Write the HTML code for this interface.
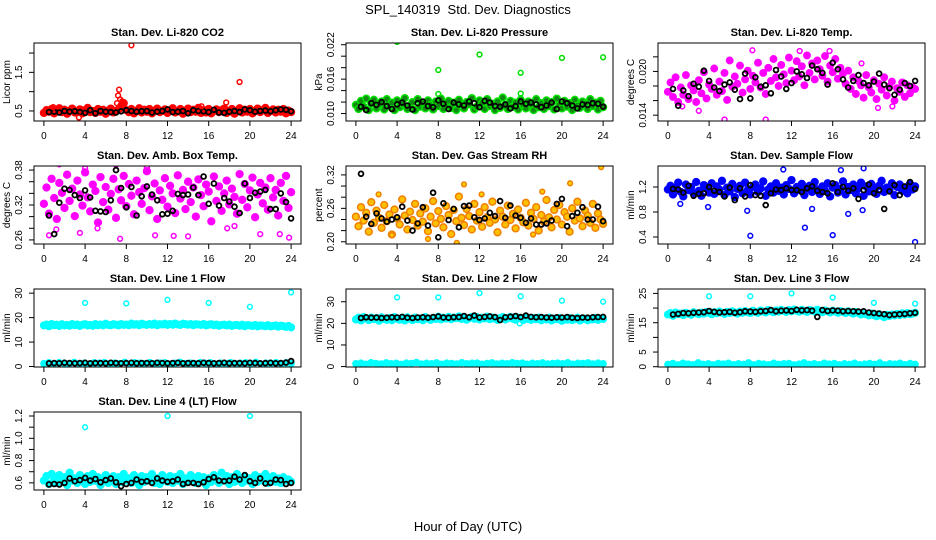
<!DOCTYPE html>
<html><head><meta charset="utf-8"><style>
html,body{margin:0;padding:0;background:#fff}
svg{display:block;font-family:"Liberation Sans",Arial,sans-serif}
</style></head><body>
<svg id="chart" width="936" height="540" viewBox="0 0 936 540" xmlns="http://www.w3.org/2000/svg">
<rect x="0" y="0" width="936" height="540" fill="#fff"/>
<text x="468" y="14" text-anchor="middle" font-size="13">SPL_140319&#160;&#160;Std. Dev. Diagnostics</text>
<text x="468" y="531" text-anchor="middle" font-size="13">Hour of Day (UTC)</text>
</svg>
<script>
// ---- data (hour x-grid derived from array length for band series) ----
const xTicks = [0,4,8,12,16,20,24];

const co2Band = [0.45,0.52,0.48,0.55,0.44,0.5,0.57,0.47,0.53,0.43,0.51,0.56,0.46,0.49,0.54,0.44,0.52,0.58,0.47,0.5,0.45,0.55,0.48,0.53,0.43,0.51,0.56,0.46,0.5,0.54,0.62,0.7,0.52,0.47,0.55,0.44,0.5,0.57,0.46,0.53,0.48,0.55,0.44,0.51,0.56,0.47,0.5,0.54,0.45,0.52,0.57,0.46,0.49,0.55,0.43,0.51,0.56,0.47,0.53,0.48,0.58,0.45,0.52,0.46,0.55,0.44,0.5,0.54,0.47,0.52,0.56,0.45,0.49,0.55,0.43,0.51,0.57,0.46,0.53,0.48,0.55,0.44,0.5,0.56,0.47,0.52,0.58,0.45,0.5,0.54,0.46,0.53,0.48,0.55,0.44,0.51,0.47];
const co2Black = [0.47,0.48,0.46,0.5,0.48,0.49,0.47,0.45,0.52,0.44,0.5,0.48,0.47,0.46,0.49,0.52,0.5,0.48,0.49,0.5,0.46,0.48,0.5,0.54,0.47,0.48,0.5,0.44,0.52,0.5,0.49,0.47,0.53,0.46,0.45,0.48,0.5,0.47,0.54,0.52,0.48,0.5,0.51,0.49,0.52,0.54,0.53,0.49];
const co2OutX = [8.5,19,7.3,7.2,7.4,7.6,7.1,17.7,15.3,0.9,3.4];
const co2OutY = [2.2,1.25,1.05,0.9,0.8,0.75,0.7,0.72,0.62,0.6,0.33];

const presBand = [0.0115,0.0108,0.0122,0.0112,0.0126,0.0106,0.0118,0.0124,0.0109,0.0116,0.0121,0.0107,0.0125,0.0113,0.0119,0.0106,0.0123,0.0111,0.0117,0.0127,0.0108,0.0114,0.012,0.0106,0.0125,0.0112,0.0118,0.0109,0.0123,0.0115,0.0107,0.0121,0.0113,0.0126,0.0108,0.0117,0.0122,0.011,0.0119,0.0106,0.0124,0.0114,0.0109,0.012,0.0116,0.0127,0.0107,0.0112,0.0123,0.0118,0.0108,0.0125,0.0113,0.0117,0.0106,0.0121,0.011,0.0128,0.0115,0.0108,0.0122,0.0112,0.0119,0.0107,0.0124,0.0114,0.0109,0.0121,0.0116,0.0106,0.0125,0.0111,0.0118,0.0108,0.0123,0.0113,0.012,0.0107,0.0126,0.0115,0.0109,0.0122,0.0112,0.0118,0.0106,0.0124,0.0114,0.011,0.0121,0.0117,0.0108,0.0125,0.0113,0.0119,0.0107,0.0122,0.0111];
const presBlack = [0.0112,0.0106,0.0118,0.0115,0.012,0.0113,0.0108,0.0116,0.0119,0.0114,0.0107,0.0118,0.0121,0.0113,0.0111,0.0123,0.0117,0.0108,0.0119,0.0116,0.0114,0.0121,0.0118,0.0111,0.0122,0.0119,0.0113,0.0112,0.0116,0.0109,0.0113,0.0121,0.0117,0.0119,0.0116,0.0111,0.0114,0.0119,0.0108,0.0121,0.0118,0.0114,0.0109,0.0116,0.0115,0.0118,0.0117,0.0112];
const presOutX = [4,8,12,16,20,24,8,16];
const presOutY = [0.0225,0.0176,0.0203,0.0171,0.0197,0.0198,0.0134,0.0135];

const tempBand = [0.0172,0.0185,0.0165,0.0192,0.0158,0.0178,0.0168,0.0195,0.0162,0.0181,0.0174,0.0158,0.0188,0.017,0.0199,0.0163,0.0182,0.0176,0.0204,0.0168,0.0186,0.0173,0.0198,0.0161,0.0215,0.0179,0.0193,0.0183,0.0208,0.0171,0.0189,0.0201,0.0176,0.0194,0.0185,0.0212,0.0178,0.0198,0.0169,0.0205,0.0187,0.0217,0.0192,0.018,0.0209,0.0196,0.0184,0.0219,0.0201,0.0188,0.0214,0.0193,0.0207,0.0181,0.0222,0.0198,0.0211,0.0189,0.0215,0.0203,0.0194,0.0221,0.0186,0.0208,0.0199,0.0217,0.019,0.0205,0.0197,0.0183,0.0201,0.0176,0.0192,0.0169,0.0187,0.0181,0.0164,0.0195,0.0178,0.0171,0.0188,0.0162,0.0183,0.0175,0.0192,0.0167,0.0179,0.0186,0.016,0.0177,0.0172,0.0185,0.0165,0.0181,0.017,0.0178,0.0176];
const tempBlack = [0.0176,0.0153,0.0174,0.0166,0.0183,0.0179,0.0201,0.0187,0.0178,0.0173,0.0182,0.0185,0.0175,0.0162,0.0197,0.0163,0.0192,0.0179,0.0181,0.017,0.0202,0.0193,0.0176,0.0184,0.02,0.0196,0.0191,0.0208,0.0203,0.0198,0.0182,0.0212,0.0203,0.0189,0.0178,0.0187,0.0195,0.0184,0.0181,0.0186,0.0197,0.0182,0.0177,0.0168,0.0175,0.0184,0.018,0.0187];
const tempOutX = [5.5,9.5,3.0,8.2,12.8,15.7,20.4,21.8,18.8,1.4];
const tempOutY = [0.0134,0.0134,0.0146,0.0229,0.0228,0.0228,0.015,0.0152,0.0211,0.0152];

const ambBand = [0.322,0.35,0.305,0.365,0.332,0.296,0.358,0.341,0.315,0.372,0.327,0.348,0.301,0.362,0.338,0.319,0.376,0.333,0.309,0.355,0.344,0.29,0.368,0.325,0.351,0.312,0.339,0.365,0.298,0.347,0.328,0.37,0.318,0.356,0.336,0.304,0.362,0.342,0.322,0.349,0.378,0.311,0.335,0.357,0.296,0.345,0.329,0.366,0.317,0.353,0.34,0.306,0.371,0.331,0.346,0.313,0.36,0.325,0.35,0.3,0.364,0.337,0.318,0.355,0.343,0.292,0.369,0.327,0.352,0.31,0.34,0.362,0.321,0.348,0.334,0.305,0.373,0.329,0.356,0.316,0.345,0.367,0.299,0.338,0.358,0.323,0.35,0.312,0.366,0.333,0.346,0.302,0.358,0.327,0.37,0.315,0.342];
const ambBlack = [0.302,0.27,0.324,0.348,0.346,0.337,0.332,0.345,0.333,0.31,0.309,0.308,0.328,0.38,0.349,0.316,0.351,0.302,0.335,0.352,0.338,0.328,0.304,0.305,0.31,0.339,0.337,0.338,0.35,0.337,0.369,0.322,0.357,0.319,0.332,0.326,0.317,0.306,0.357,0.332,0.341,0.343,0.346,0.313,0.313,0.34,0.325,0.297];
const ambOutX = [0.5,1.2,3.5,5.2,7.4,7.0,10.0,10.8,12.6,14.0,17.8,18.5,21.0,22.9,23.8,1.5,4.0];
const ambOutY = [0.268,0.278,0.272,0.28,0.262,0.389,0.384,0.268,0.267,0.266,0.28,0.284,0.27,0.27,0.264,0.39,0.383];

const rhBand = [0.245,0.228,0.262,0.238,0.252,0.218,0.271,0.234,0.256,0.243,0.225,0.266,0.237,0.249,0.213,0.258,0.242,0.231,0.276,0.247,0.222,0.254,0.239,0.268,0.229,0.251,0.236,0.26,0.219,0.245,0.273,0.233,0.255,0.241,0.226,0.264,0.248,0.214,0.257,0.237,0.281,0.243,0.23,0.259,0.246,0.222,0.268,0.238,0.253,0.227,0.262,0.244,0.234,0.272,0.24,0.217,0.256,0.245,0.231,0.265,0.239,0.25,0.224,0.258,0.243,0.235,0.27,0.229,0.252,0.241,0.262,0.22,0.248,0.236,0.275,0.244,0.226,0.257,0.24,0.266,0.231,0.253,0.245,0.218,0.26,0.238,0.272,0.242,0.228,0.256,0.247,0.234,0.268,0.225,0.251,0.24,0.232];
const rhBlack = [0.322,0.245,0.232,0.251,0.242,0.236,0.24,0.244,0.263,0.238,0.22,0.233,0.262,0.229,0.288,0.208,0.269,0.239,0.259,0.226,0.264,0.265,0.244,0.239,0.242,0.252,0.246,0.273,0.243,0.265,0.247,0.243,0.234,0.242,0.231,0.231,0.233,0.238,0.268,0.277,0.228,0.246,0.252,0.262,0.24,0.24,0.263,0.237];
const rhOutX = [23.8,10.5,20.8,2.2,18.1,12.2,7.0,9.8,17.2,3.5];
const rhOutY = [0.334,0.303,0.305,0.285,0.29,0.285,0.205,0.198,0.213,0.212];

const flowBand = [1.16,1.22,1.08,1.19,1.27,1.12,1.05,1.24,1.15,1.2,1.1,1.28,1.14,1.06,1.23,1.18,1.11,1.26,1.09,1.21,1.16,1.3,1.07,1.19,1.13,1.25,1.04,1.17,1.22,1.1,1.27,1.15,1.08,1.2,1.24,1.12,1.18,1.29,1.06,1.16,1.21,1.11,1.26,1.14,1.19,1.08,1.23,1.17,1.31,1.1,1.2,1.15,1.25,1.07,1.18,1.22,1.12,1.28,1.16,1.09,1.21,1.14,1.26,1.05,1.19,1.23,1.11,1.17,1.29,1.08,1.2,1.15,1.24,1.1,1.18,1.27,1.06,1.21,1.13,1.25,1.17,1.09,1.22,1.3,1.12,1.19,1.15,1.26,1.07,1.2,1.24,1.14,1.18,1.1,1.25,1.16,1.21];
const flowBlack = [1.17,1.16,1.11,1.22,1.06,1.09,1.1,1.2,1.14,1.12,1.05,1.19,0.99,1.18,1.05,1.23,1.07,1.06,0.91,1.1,1.16,1.15,1.18,1.15,1.15,1.12,1.18,1.21,1.14,1.12,1.1,1.26,1.12,1.2,1.14,1.18,1.01,1.15,1.24,1.1,1.15,0.85,1.13,1.23,1.07,1.21,1.28,1.17];
const flowOutX = [8,16,24,13.3,11.2,19,16.8,17.5,18.9,14,1.2,3.9,7.7];
const flowOutY = [0.42,0.43,0.32,0.55,1.48,1.5,1.47,0.77,0.83,0.85,0.93,0.88,0.82];

const l1Band = [16.8,17.2,16.5,17.4,16.9,17.1,16.6,17.3,16.8,17.0,16.7,17.4,16.9,17.2,16.6,17.1,17.3,16.8,17.0,16.7,17.4,16.9,17.2,16.8,17.5,17.0,16.9,17.3,17.1,16.8,17.4,17.0,17.2,16.9,17.6,17.1,17.3,16.9,17.5,17.2,17.0,17.4,17.1,17.6,16.9,17.3,17.2,17.5,17.0,17.4,17.1,17.6,17.2,17.0,17.5,17.3,17.1,17.4,16.9,17.3,17.2,17.0,17.4,16.8,17.1,17.3,16.9,17.2,16.7,17.0,17.1,16.8,17.2,16.6,16.9,17.0,16.7,17.1,16.5,16.9,16.8,16.6,17.0,16.4,16.8,16.7,16.5,16.9,16.4,16.6,16.8,16.3,16.7,16.5,16.2,16.6,16.0];
const l1Low = [1.2,1.5,1.0,1.6,1.3,1.1,1.7,1.2,1.4,1.0,1.5,1.3,1.6,1.1,1.4,1.2,1.7,1.0,1.5,1.3,1.1,1.6,1.2,1.4,1.5,1.0,1.3,1.7,1.2,1.4,1.1,1.6,1.3,1.5,1.0,1.4,1.2,1.6,1.1,1.3,1.5,1.2,1.7,1.0,1.4,1.3,1.6,1.1,1.5,1.2];
const l1Black = [1.3,1.4,1.3,1.5,1.4,1.3,1.4,1.5,1.3,1.4,1.4,1.3,1.5,1.4,1.3,1.4,1.5,1.3,1.4,1.4,1.3,1.5,1.4,1.3,1.4,1.5,1.3,1.4,1.4,1.3,1.5,1.4,1.3,1.4,1.5,1.3,1.4,1.4,1.3,1.5,1.4,1.3,1.4,1.5,1.3,1.4,1.6,2.2];
const l1OutX = [4,8,12,16,20,24];
const l1OutY = [26.0,25.8,27.3,26.0,24.4,30.3];

const l2Band = [21.8,22.6,21.3,22.9,22.1,21.5,22.7,21.9,22.4,21.2,22.8,22.0,21.6,22.5,21.4,22.9,22.2,21.7,22.6,21.3,22.8,22.0,21.5,22.7,21.9,22.3,21.4,22.9,22.1,21.6,22.5,22.0,23.1,21.8,22.6,22.2,23.0,21.9,22.7,22.4,23.2,22.0,22.8,21.7,22.5,23.0,22.1,22.9,21.8,22.6,22.3,23.1,21.9,22.7,22.2,21.6,22.5,22.9,21.8,22.4,23.0,22.1,21.7,22.6,22.3,21.5,22.8,22.0,21.6,22.5,21.9,22.7,21.4,22.3,21.8,22.6,21.3,22.2,21.9,22.5,21.2,22.1,21.7,22.4,21.5,22.0,22.6,21.3,21.9,22.3,21.4,22.1,21.8,22.5,21.6,22.2,22.0];
const l2Low = [1.3,1.6,1.1,1.8,1.4,1.2,1.7,1.3,1.5,1.0,1.6,1.4,1.9,1.2,1.5,1.3,1.7,1.1,1.6,1.4,1.2,1.8,1.3,1.5,1.6,1.1,1.4,1.7,1.2,1.5,1.3,1.8,1.4,1.6,1.1,1.5,1.3,1.7,1.2,1.4,1.6,1.3,1.8,1.1,1.5,1.4,1.7,1.2,1.6,1.3];
const l2Black = [22.5,22.8,22.6,22.7,22.5,22.6,22.8,22.7,23.0,22.6,22.5,22.7,22.8,22.6,22.9,23.2,22.7,22.6,22.8,22.9,23.4,22.8,23.6,22.7,23.0,23.2,22.9,21.5,22.8,23.1,23.4,22.9,23.6,23.0,22.8,22.9,22.7,22.6,22.8,22.7,22.9,22.6,22.5,22.7,22.6,22.8,22.9,23.0];
const l2OutX = [4,8,12,16,20,24,15.9];
const l2OutY = [32.0,32.0,34.0,32.5,30.5,30.0,20.0];

const l3Band = [17.8,18.3,17.4,18.5,17.9,18.1,17.6,18.4,18.0,17.7,18.6,18.2,17.9,18.5,18.1,18.7,18.3,17.9,18.6,18.2,18.8,18.4,18.0,18.7,18.3,18.9,18.5,18.1,18.8,18.4,19.0,18.6,18.3,19.1,18.7,18.4,19.2,18.8,18.5,19.3,18.9,18.6,19.2,18.8,19.4,19.0,18.7,19.3,18.9,19.5,19.1,18.8,19.4,19.0,18.7,19.3,19.1,18.8,19.4,19.0,18.6,19.2,18.9,18.5,19.1,18.8,18.4,19.0,18.7,18.3,18.9,18.5,18.1,18.7,18.3,17.8,18.4,17.9,17.5,18.1,17.6,17.2,17.9,17.4,16.9,17.7,17.3,17.8,17.5,18.0,17.6,18.2,17.8,18.3,17.9,18.1,18.4];
const l3Low = [0.8,1.1,0.6,1.2,0.9,0.7,1.3,0.8,1.0,0.6,1.1,0.9,1.2,0.7,1.0,0.8,1.3,0.6,1.1,0.9,0.7,1.2,0.8,1.0,1.1,0.6,0.9,1.3,0.8,1.0,0.7,1.2,0.9,1.1,0.6,1.0,0.8,1.2,0.7,0.9,1.1,0.8,1.3,0.6,1.0,0.9,1.2,0.7,1.1,0.8];
const l3Black = [17.8,18.0,18.3,18.2,18.4,18.5,18.6,19.0,18.7,18.5,18.6,18.7,18.4,18.6,18.9,18.8,18.7,18.9,19.0,19.3,18.9,19.1,19.2,19.0,19.4,19.2,19.3,19.1,17.0,19.3,19.0,19.2,19.1,18.9,19.0,18.9,18.8,18.9,18.5,18.3,18.1,17.9,17.6,17.8,17.9,18.0,18.2,18.4];
const l3OutX = [4,8,12,16,20,24];
const l3OutY = [24.0,24.0,25.0,23.6,21.8,21.5];

const l4Band = [0.62,0.66,0.59,0.68,0.63,0.6,0.67,0.61,0.65,0.58,0.69,0.62,0.64,0.6,0.67,0.63,0.59,0.66,0.61,0.68,0.62,0.65,0.58,0.64,0.67,0.6,0.63,0.66,0.59,0.65,0.61,0.68,0.62,0.64,0.6,0.67,0.63,0.58,0.66,0.61,0.65,0.62,0.68,0.6,0.64,0.59,0.67,0.63,0.61,0.66,0.6,0.65,0.62,0.68,0.59,0.64,0.61,0.67,0.63,0.6,0.66,0.62,0.65,0.58,0.64,0.61,0.67,0.63,0.6,0.69,0.62,0.66,0.59,0.65,0.61,0.68,0.63,0.6,0.66,0.62,0.64,0.59,0.67,0.61,0.65,0.62,0.68,0.6,0.63,0.66,0.61,0.64,0.6,0.65,0.62,0.63,0.61];
const l4Black = [0.585,0.59,0.585,0.6,0.64,0.615,0.625,0.645,0.62,0.635,0.605,0.625,0.64,0.605,0.57,0.59,0.6,0.63,0.61,0.615,0.6,0.64,0.62,0.61,0.615,0.63,0.59,0.6,0.6,0.59,0.605,0.635,0.65,0.62,0.615,0.62,0.655,0.63,0.67,0.615,0.6,0.64,0.595,0.6,0.63,0.625,0.59,0.6];
const l4OutX = [4,12,20];
const l4OutY = [1.1,1.2,1.2];

// ---- layout ----
const NS = 'http://www.w3.org/2000/svg';
const svg = document.getElementById('chart');
const colLeft = [34,346,658], rowTop = [43,166,289,412], boxW = 267, boxH = 78;

function mk(tag, attrs, parent){
  const e = document.createElementNS(NS, tag);
  for (const k in attrs) e.setAttribute(k, attrs[k]);
  (parent||svg).appendChild(e);
  return e;
}

const panels = [
 {id:'co2',col:0,row:0,title:'Stan. Dev. Li-820 CO2',ylab:'Licor ppm',ymin:0.24,ymax:2.26,ticks:[0.5,1,1.5,2],labels:['0.5','','1.5',''],
  series:[{y:co2Band,c:'#ff0000',r:3.4},{y:co2Black,c:'#000',black:true},{x:co2OutX,y:co2OutY,c:'#ff0000'}]},
 {id:'pressure',col:1,row:0,title:'Stan. Dev. Li-820 Pressure',ylab:'kPa',ymin:0.0087,ymax:0.0223,ticks:[0.010,0.012,0.014,0.016,0.018,0.020,0.022],labels:['0.010','','','0.016','','','0.022'],
  series:[{y:presBand,c:'#00e000',fill:'#118811',r:3.4},{y:presBlack,c:'#000',black:true},{x:presOutX,y:presOutY,c:'#00dd00'}]},
 {id:'temp',col:2,row:0,title:'Stan. Dev. Li-820 Temp.',ylab:'degrees C',ymin:0.0132,ymax:0.0239,ticks:[0.014,0.016,0.018,0.020,0.022],labels:['0.014','','','0.020',''],
  series:[{y:tempBand,c:'#ff00ff',fill:'#ff00ff',r:3.2},{x:tempOutX,y:tempOutY,c:'#ff00ff'},{y:tempBlack,c:'#000',black:true}]},
 {id:'ambbox',col:0,row:1,title:'Stan. Dev. Amb. Box Temp.',ylab:'degrees C',ymin:0.253,ymax:0.387,ticks:[0.26,0.28,0.30,0.32,0.34,0.36,0.38],labels:['0.26','','','0.32','','','0.38'],
  series:[{y:ambBand,c:'#ff00ff',fill:'#ff00ff',r:3.4},{x:ambOutX,y:ambOutY,c:'#ff00ff'},{y:ambBlack,c:'#000',black:true}]},
 {id:'rh',col:1,row:1,title:'Stan. Dev. Gas Stream RH',ylab:'percent',ymin:0.196,ymax:0.336,ticks:[0.20,0.22,0.24,0.26,0.28,0.30,0.32],labels:['0.20','','','0.26','','','0.32'],
  series:[{y:rhBand,c:'#f08000',fill:'#ffc000',r:3.4},{x:rhOutX,y:rhOutY,c:'#f08000',fill:'#ffd000'},{y:rhBlack,c:'#000',black:true}]},
 {id:'sampleflow',col:2,row:1,title:'Stan. Dev. Sample Flow',ylab:'ml/min',ymin:0.288,ymax:1.536,ticks:[0.4,0.8,1.2],labels:['0.4','0.8','1.2'],
  series:[{y:flowBand,c:'#0000ff',fill:'#0000ff',r:3.4},{x:flowOutX,y:flowOutY,c:'#0000ff'},{y:flowBlack,c:'#000',black:true}]},
 {id:'line1',col:0,row:2,title:'Stan. Dev. Line 1 Flow',ylab:'ml/min',ymin:-0.2,ymax:31.7,ticks:[0,10,20,30],labels:['0','10','20','30'],
  series:[{y:l1Band,c:'#00ffff',fill:'#00ffff',r:3.3},{y:l1Low,c:'#00ffff',fill:'#00ffff',r:3},{y:l1Black,c:'#000',black:true},{x:l1OutX,y:l1OutY,c:'#00ffff'}]},
 {id:'line2',col:1,row:2,title:'Stan. Dev. Line 2 Flow',ylab:'ml/min',ymin:-0.2,ymax:35.9,ticks:[0,10,20,30],labels:['0','10','20','30'],
  series:[{y:l2Band,c:'#00ffff',fill:'#00ffff',r:3.3},{y:l2Low,c:'#00ffff',fill:'#00ffff',r:3},{y:l2Black,c:'#000',black:true},{x:l2OutX,y:l2OutY,c:'#00ffff'}]},
 {id:'line3',col:2,row:2,title:'Stan. Dev. Line 3 Flow',ylab:'ml/min',ymin:-0.1,ymax:26.5,ticks:[0,5,10,15,20,25],labels:['0','5','','15','','25'],
  series:[{y:l3Band,c:'#00ffff',fill:'#00ffff',r:3.3},{y:l3Low,c:'#00ffff',fill:'#00ffff',r:3},{y:l3Black,c:'#000',black:true},{x:l3OutX,y:l3OutY,c:'#00ffff'}]},
 {id:'line4',col:0,row:3,title:'Stan. Dev. Line 4 (LT) Flow',ylab:'ml/min',ymin:0.536,ymax:1.236,ticks:[0.6,0.7,0.8,0.9,1.0,1.1,1.2],labels:['0.6','','0.8','','1.0','','1.2'],
  series:[{y:l4Band,c:'#00ffff',fill:'#00ffff',r:3.4},{y:l4Black,c:'#000',black:true},{x:l4OutX,y:l4OutY,c:'#00ffff'}]}
];

panels.forEach(p => {
  const L = colLeft[p.col], T = rowTop[p.row];
  const g = mk('g', {});
  
  
  const xs = h => L + (h + 0.96) / 25.92 * boxW;
  const ys = v => T + boxH - (v - p.ymin) / (p.ymax - p.ymin) * boxH;
  const clip = mk('clipPath', {id:'clip-' + p.id}, g);
  mk('rect', {x:L, y:T, width:boxW, height:boxH}, clip);

  const marks = mk('g', {'clip-path':'url(#clip-' + p.id + ')'}, g);
  
  
  p.series.forEach(s => {
    const n = s.y.length;
    const isBand = !s.x && !s.black;
    s.y.forEach((v, i) => {
      let h;
      if (s.x) h = s.x[i];
      else if (s.black) h = 0.5 + i * 23.5 / (n - 1);
      else h = i * 24 / (n - 1);
      const fill = isBand ? (s.fill || s.c) : (s.fill || 'none');
      const c = mk('circle', {cx:xs(h).toFixed(1), cy:ys(v).toFixed(1), r: s.r || 2.4,
        fill: fill, stroke: s.c, 'stroke-width': s.black ? 1.8 : 1.5}, marks);
      
      
    });
  });

  const box = mk('rect', {x:L, y:T, width:boxW, height:boxH, fill:'none', stroke:'#000', 'stroke-width':1}, g);
  
  

  const t = mk('text', {x:L + boxW/2, y:T - 7, 'text-anchor':'middle', 'font-size':11, 'font-weight':'bold'}, g);
  t.textContent = p.title;
  
  

  mk('line', {x1:xs(0), x2:xs(24), y1:T+boxH, y2:T+boxH, stroke:'#000'}, g);
  xTicks.forEach(h => {
    mk('line', {x1:xs(h), x2:xs(h), y1:T+boxH, y2:T+boxH+5, stroke:'#000'}, g);
    const tl = mk('text', {x:xs(h), y:T+boxH+18, 'text-anchor':'middle', 'font-size':10}, g);
    tl.textContent = h;
    
    
  });
  mk('line', {x1:L, x2:L, y1:ys(p.ticks[0]), y2:ys(p.ticks[p.ticks.length-1]), stroke:'#000'}, g);
  p.ticks.forEach((v, i) => {
    const y = ys(v);
    mk('line', {x1:L-5, x2:L, y1:y, y2:y, stroke:'#000'}, g);
    if (p.labels[i]) {
      const yl = mk('text', {x:L-12, y:y, 'text-anchor':'middle', 'font-size':10, transform:'rotate(-90 ' + (L-12) + ' ' + y + ')'}, g);
      yl.textContent = p.labels[i];
      
      
    }
  });
  const yt = mk('text', {x:L-24, y:T+boxH/2, 'text-anchor':'middle', 'font-size':10, transform:'rotate(-90 ' + (L-24) + ' ' + (T+boxH/2) + ')'}, g);
  yt.textContent = p.ylab;
  
  
});
</script>
</body></html>
